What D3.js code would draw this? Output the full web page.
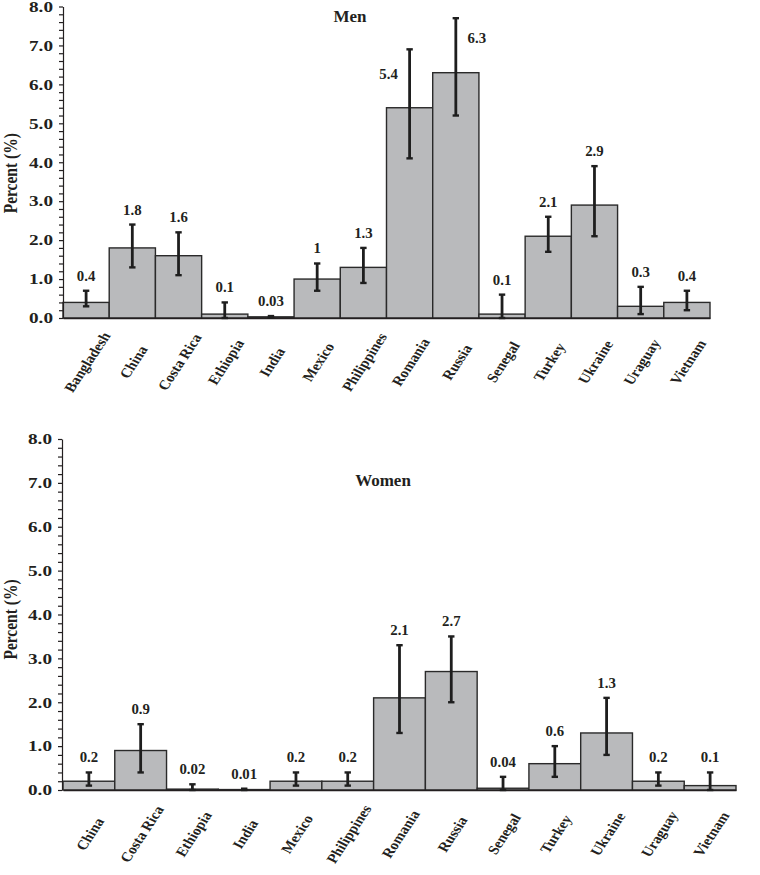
<!DOCTYPE html>
<html><head><meta charset="utf-8">
<script src="https://cdn.jsdelivr.net/npm/d3@7/dist/d3.min.js"></script>
<style>
body{margin:0;background:#fff}
svg text{font-family:"Liberation Serif","Times New Roman",serif;font-weight:bold;fill:#231f20}
</style>
</head><body>
<svg id="c" width="760" height="875"></svg>
<script>
// ---- data ----
const menCountries = ["Bangladesh","China","Costa Rica","Ethiopia","India","Mexico","Philippines","Romania","Russia","Senegal","Turkey","Ukraine","Uraguay","Vietnam"];
const menValues = [0.4,1.8,1.6,0.1,0.03,1,1.3,5.4,6.3,0.1,2.1,2.9,0.3,0.4];
const menLow    = [0.3,1.3,1.1,0.0,0.01,0.7,0.9,4.1,5.2,0.0,1.7,2.1,0.1,0.2];
const menHigh   = [0.7,2.4,2.2,0.4,0.05,1.4,1.8,6.9,7.7,0.6,2.6,3.9,0.8,0.7];

const womenCountries = ["China","Costa Rica","Ethiopia","India","Mexico","Philippines","Romania","Russia","Senegal","Turkey","Ukraine","Uraguay","Vietnam"];
const womenValues = [0.2,0.9,0.02,0.01,0.2,0.2,2.1,2.7,0.04,0.6,1.3,0.2,0.1];
const womenLow    = [0.1,0.4,0.0,0.0,0.1,0.1,1.3,2.0,0.0,0.3,0.8,0.1,0.0];
const womenHigh   = [0.4,1.5,0.13,0.03,0.4,0.4,3.3,3.5,0.3,1.0,2.1,0.4,0.4];

const yTickValues = d3.range(0, 41).map(i => i / 5);   // 0.0 .. 8.0 by 0.2
const yDomain = [0, 8];
const yAxisTitle = "Percent (%)";

// ---- drawing ----
const svg = d3.select("#c");
const SERIF = "'Liberation Serif','Times New Roman',serif";
const HS = 1.15; // horizontal stretch applied in page coordinates

function stext(g, x, y, txt, o) {
  const t = g.append("g").attr("transform", `translate(${x},${y}) scale(${o.sx||1},1) rotate(${o.rot||0})`);
  t.append("text").attr("text-anchor", o.anchor || "middle")
    .attr("dy", o.dy || 0)
    .style("font-family", SERIF).style("font-weight", "bold")
    .style("font-size", (o.size || 13) + "px").text(txt);
  return t;
}

function panel(cfg) {
  const x = d3.scaleBand().domain(cfg.cats).range([cfg.x0, cfg.x1]).padding(0);
  const y = d3.scaleLinear().domain(yDomain).range([cfg.y0, cfg.y1]);
  const bw = x.bandwidth();
  const g = svg.append("g");

  // bars
  g.selectAll("rect.bar").data(cfg.cats).join("rect").attr("class", "bar")
    .attr("x", d => x(d)).attr("width", bw)
    .attr("y", (d, i) => y(cfg.vals[i]))
    .attr("height", (d, i) => y(0) - y(cfg.vals[i]))
    .attr("fill", "#b9babc").attr("stroke", "#2a2a2a").attr("stroke-width", 1.4);

  // x axis (baseline + rotated labels)
  const xa = g.append("g").attr("transform", `translate(0,${y(0)})`)
    .call(d3.axisBottom(x).tickSize(0).tickSizeOuter(0));
  xa.select(".domain").attr("stroke", "#231f20").attr("stroke-width", 1.5);
  xa.selectAll(".tick").each(function(d) {
    const tk = d3.select(this);
    tk.select("text").remove();
    stext(tk, 1, 44, d, {rot: -60, size: 13.5, dy: "0.35em", sx: HS});
  });

  // error bars
  const eb = g.selectAll("g.err").data(cfg.cats).join("g").attr("class", "err")
    .attr("transform", d => `translate(${x(d) + bw / 2},0)`);
  eb.append("line").attr("y1", (d, i) => y(cfg.lo[i])).attr("y2", (d, i) => y(cfg.hi[i]))
    .attr("stroke", "#1e1e1e").attr("stroke-width", 2.8);
  [cfg.lo, cfg.hi].forEach(arr => {
    eb.append("line").attr("x1", -3.2).attr("x2", 3.2)
      .attr("y1", (d, i) => y(arr[i])).attr("y2", (d, i) => y(arr[i]))
      .attr("stroke", "#1e1e1e").attr("stroke-width", 2.4);
  });

  // value labels
  cfg.cats.forEach((c, i) => {
    const v = cfg.vals[i];
    let lx = x(c) + bw / 2, ly = y(cfg.hi[i]) - 10;
    if (cfg.hi[i] > 6.5) {
      const left = i > 0 ? cfg.vals[i - 1] : 0;
      const right = i < cfg.vals.length - 1 ? cfg.vals[i + 1] : 0;
      const dir = left < right ? -1 : 1;
      lx += dir * 21;
      ly = y(v + 0.75);
    }
    stext(g, lx, ly, String(v), {size: 14, sx: 1.06});
  });

  // y axis
  const ya = g.append("g").attr("transform", `translate(${cfg.ax},0)`)
    .call(d3.axisLeft(y).tickValues(yTickValues).tickSize(4).tickSizeOuter(0)
      .tickFormat(d => Math.abs(d - Math.round(d)) < 1e-9 ? d3.format(".1f")(d) : ""));
  ya.selectAll("path,line").attr("stroke", "#231f20").attr("stroke-width", 1.2);
  ya.selectAll("text").attr("x", -10 / 1.28).attr("transform", "scale(1.28,1)")
    .style("font-family", SERIF).style("font-weight", "bold")
    .style("font-size", "15px").attr("fill", "#231f20");

  // y title
  stext(g, 17, (cfg.y0 + cfg.y1) / 2 + cfg.ytOff, yAxisTitle, {size: 15.5, rot: -90, sx: HS});
  // panel title
  stext(g, cfg.tx, cfg.ty, cfg.title, {size: 17, sx: 1.0});
}

panel({cats: menCountries, vals: menValues, lo: menLow, hi: menHigh,
  x0: 63, x1: 710, y0: 318, y1: 6.5, ax: 63, title: "Men", tx: 350, ty: 22, ytOff: 11});
panel({cats: womenCountries, vals: womenValues, lo: womenLow, hi: womenHigh,
  x0: 63, x1: 736, y0: 790, y1: 439, ax: 62, title: "Women", tx: 383, ty: 486, ytOff: 5});
</script>
</body></html>
